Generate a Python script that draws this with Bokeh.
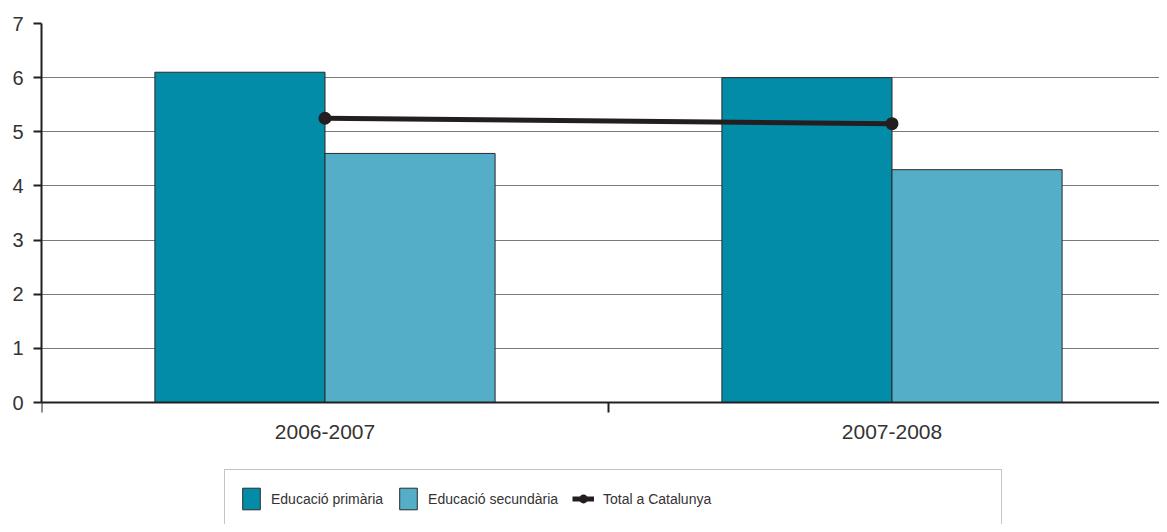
from bokeh.plotting import figure
from bokeh.models import Range1d, FixedTicker, Legend, LegendItem
from bokeh.embed import file_html
from bokeh.resources import INLINE

categories = ["2006-2007", "2007-2008"]
primaria = [6.1, 6.0]
secundaria = [4.6, 4.3]
total = [5.25, 5.15]
y_ticks = [0, 1, 2, 3, 4, 5, 6, 7]

FONT = "Liberation Sans"
TXT = "#333333"

# layout (pixels)
W, H = 1159, 524
LEFT, TOP = 41, 23
ZERO_PX = 402          # pixel row of y = 0
CAT_PX = 567           # pixel width of one category
frame_w = W - LEFT
frame_h = H - TOP
unit = (ZERO_PX - TOP) / max(y_ticks)
y_low = -(H - ZERO_PX) / unit

idx = list(range(len(categories)))
centers = [i + 0.5 for i in idx]
bw = 0.3
x_prim = [c - bw / 2 for c in centers]
x_sec = [c + bw / 2 for c in centers]

p = figure(width=W, height=H,
           x_range=Range1d(0, frame_w / CAT_PX), y_range=Range1d(y_low, max(y_ticks)),
           output_backend="svg", toolbar_location=None,
           min_border_left=LEFT, min_border_right=0,
           min_border_top=TOP, min_border_bottom=0)
p.outline_line_color = None
p.background_fill_color = "white"

r_prim = p.vbar(x=x_prim, top=primaria, bottom=0, width=bw,
                fill_color="#038ca8", line_color="#2a2a2a", line_width=1)
r_sec = p.vbar(x=x_sec, top=secundaria, bottom=0, width=bw,
               fill_color="#54aec8", line_color="#2a2a2a", line_width=1)
r_line = p.line(centers, total, line_color="#231f20", line_width=5)
r_dot = p.scatter(centers, total, size=13, fill_color="#231f20", line_color=None)
r_dummy = p.scatter([0.5], [0], size=1, fill_alpha=0, line_alpha=0)

# grid
p.xgrid.visible = False
p.ygrid.grid_line_color = "#7a7a7a"
p.ygrid.grid_line_width = 1

# y axis
p.yaxis.ticker = FixedTicker(ticks=y_ticks)
p.yaxis.bounds = (0, max(y_ticks))
p.yaxis.axis_line_width = 2
p.yaxis.axis_line_color = "#231f20"
p.yaxis.major_tick_out = 8
p.yaxis.major_tick_in = 0
p.yaxis.major_tick_line_width = 2
p.yaxis.major_tick_line_color = "#231f20"
p.yaxis.minor_tick_line_color = None
p.yaxis.major_label_standoff = 10
p.yaxis.major_label_text_font = FONT
p.yaxis.major_label_text_font_size = "20px"
p.yaxis.major_label_text_color = TXT

# x axis, drawn at y = 0
p.xaxis.fixed_location = 0
p.xaxis.ticker = FixedTicker(ticks=centers, minor_ticks=[0, 1, 2])
p.xaxis.major_label_overrides = {c: lab for c, lab in zip(centers, categories)}
p.xaxis.axis_line_width = 2
p.xaxis.axis_line_color = "#231f20"
p.xaxis.major_tick_line_color = None
p.xaxis.major_tick_out = 0
p.xaxis.major_tick_in = 0
p.xaxis.minor_tick_out = 10
p.xaxis.minor_tick_in = 0
p.xaxis.minor_tick_line_width = 2
p.xaxis.minor_tick_line_color = "#231f20"
p.xaxis.major_label_standoff = 12
p.xaxis.major_label_text_font = FONT
p.xaxis.major_label_text_font_size = "21px"
p.xaxis.major_label_text_color = TXT

legend = Legend(items=[
    LegendItem(label="Educació primària", renderers=[r_prim]),
    LegendItem(label="Educació secundària", renderers=[r_sec]),
    LegendItem(label="Total a Catalunya", renderers=[r_line, r_dot]),
    LegendItem(label="\u00a0" * 59, renderers=[r_dummy]),
], orientation="horizontal", location=(224 - LEFT, -4))
legend.glyph_width = 22
legend.glyph_height = 27
legend.label_standoff = 9
legend.spacing = 14
legend.padding = 15
legend.margin = 0
legend.label_text_font = FONT
legend.label_text_font_size = "14px"
legend.label_text_color = TXT
legend.label_height = 27
legend.border_line_color = "#8a8a8a"
legend.border_line_width = 1
legend.background_fill_color = "white"
legend.background_fill_alpha = 1
legend.click_policy = "none"
p.add_layout(legend, "center")

open("out.html", "w").write(file_html(p, INLINE))
